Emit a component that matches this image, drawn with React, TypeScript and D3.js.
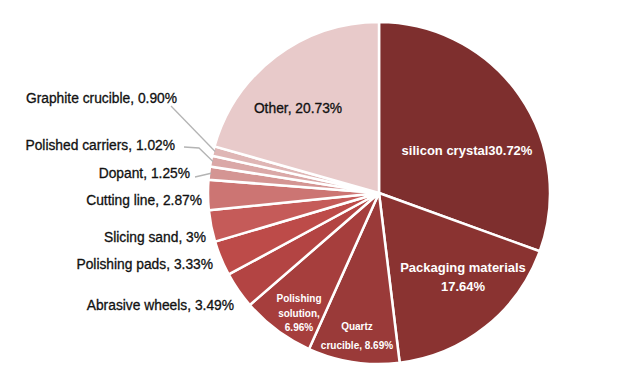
import React from "react";
import * as d3 from "d3";

const categories = [
  "silicon crystal",
  "Packaging materials",
  "Quartz crucible",
  "Polishing solution",
  "Abrasive wheels",
  "Polishing pads",
  "Slicing sand",
  "Cutting line",
  "Dopant",
  "Polished carriers",
  "Graphite crucible",
  "Other",
];
const values = [30.72, 17.64, 8.69, 6.96, 3.49, 3.33, 3, 2.87, 1.25, 1.02, 0.9, 20.73];
const valueLabels = ["30.72%", "17.64%", "8.69%", "6.96%", "3.49%", "3.33%", "3%", "2.87%", "1.25%", "1.02%", "0.90%", "20.73%"];
const colors = [
  "#7e2f2e", "#8a3331", "#9a3a39", "#a63e3d", "#b34443", "#bd4b49",
  "#c55b59", "#cc7573", "#d49593", "#daa8a7", "#dfb6b5", "#e8caca",
];

const W = 640, H = 390;
const cx = 379, cy = 193, R = 171;

// outside label layout: [index, right x, baseline y, hasLeader]
const outside: [number, number, number, boolean][] = [
  [10, 177, 103, true],
  [9, 175, 150, true],
  [8, 190, 178, true],
  [7, 202, 205, false],
  [6, 206, 242, false],
  [5, 213, 269, false],
  [4, 234, 310, false],
];

export default function App() {
  const pie = d3.pie<number>().sort(null).value((d) => d);
  const arcs = pie(values);
  const arc = d3.arc<d3.PieArcDatum<number>>().innerRadius(0).outerRadius(R);
  const font = "'Liberation Sans', Arial, sans-serif";

  const edge = (i: number, r: number) => {
    const a = (arcs[i].startAngle + arcs[i].endAngle) / 2;
    return [cx + r * Math.sin(a), cy - r * Math.cos(a)];
  };

  return (
    <svg width={W} height={H} style={{ position: "absolute", left: 0, top: 0, background: "#fff" }}>
      <g transform={`translate(${cx},${cy})`}>
        {arcs.map((a, i) => (
          <path key={i} d={arc(a) || ""} fill={colors[i]} stroke="#fff" strokeWidth={2.5} strokeLinejoin="round" />
        ))}
      </g>
      {outside.map(([i, x, y, leader]) => {
        const [ex, ey] = edge(i, R - 2);
        let pts = "";
        if (i === 10) pts = `${x - 6},${y + 3} ${ex},${ey}`;
        else if (i === 9) pts = `${x + 9},${y - 3} ${x + 24},${y - 2} ${ex},${ey}`;
        else if (i === 8) pts = `${x + 5},${y - 1} ${ex},${ey}`;
        return (
          <g key={i}>
            {leader && <polyline points={pts} fill="none" stroke="#b4b4b4" strokeWidth={1.3} />}
            <text x={x} y={y} textAnchor="end" fontFamily={font} fontSize={13.8} fill="#111" stroke="#111" strokeWidth={0.3}>
              {categories[i]}, {valueLabels[i]}
            </text>
          </g>
        );
      })}
      <text x={298} y={113} textAnchor="middle" fontFamily={font} fontSize={13.8} fill="#111" stroke="#111" strokeWidth={0.3}>
        {categories[11]}, {valueLabels[11]}
      </text>
      <text x={467} y={155} textAnchor="middle" fontFamily={font} fontSize={13} fontWeight="bold" fill="#fff">
        {categories[0]}{valueLabels[0]}
      </text>
      <text x={463} y={272} textAnchor="middle" fontFamily={font} fontSize={13} fontWeight="bold" fill="#fff">
        <tspan x={463}>{categories[1]}</tspan>
        <tspan x={463} dy={19}>{valueLabels[1]}</tspan>
      </text>
      <text x={299} y={302} textAnchor="middle" fontFamily={font} fontSize={10} fontWeight="bold" fill="#fff">
        <tspan x={299}>Polishing</tspan>
        <tspan x={299} dy={14.5}>solution,</tspan>
        <tspan x={299} dy={14.5}>{valueLabels[3]}</tspan>
      </text>
      <text x={357} y={330} textAnchor="middle" fontFamily={font} fontSize={10} fontWeight="bold" fill="#fff">
        <tspan x={357}>Quartz</tspan>
        <tspan x={357} dy={19}>crucible, {valueLabels[2]}</tspan>
      </text>
    </svg>
  );
}
